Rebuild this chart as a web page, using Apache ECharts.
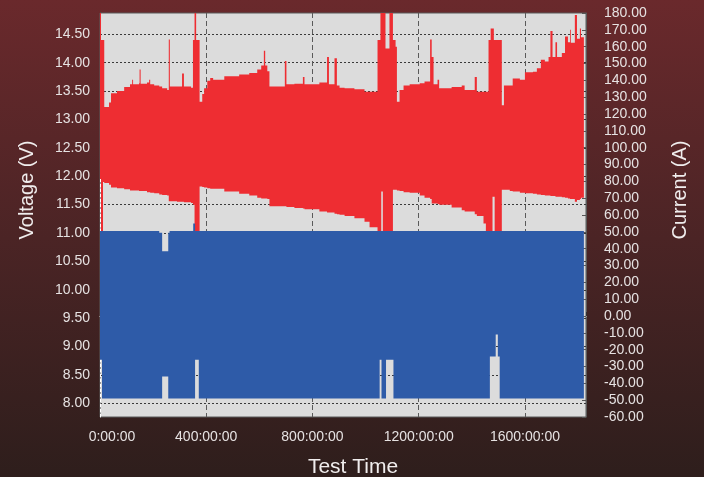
<!DOCTYPE html>
<html>
<head>
<meta charset="utf-8">
<script src="https://cdn.jsdelivr.net/npm/echarts@6/dist/echarts.min.js"></script>
<style>
  html, body { margin: 0; padding: 0; }
  #main { width: 704px; height: 477px; }
</style>
</head>
<body>
<div id="main"></div>
<script>
// test time (hours) for the voltage envelope
var timeHours = [0, 3.8, 11.3, 16, 34, 41.5, 64, 91, 113, 121, 124.5, 147, 149, 153, 177, 185, 189, 204, 223, 234,
  253, 259, 263, 290, 309, 316, 343, 350, 356, 362, 375, 385, 392, 404, 415, 426, 468, 524, 562, 592,
  607, 617, 622, 630, 638, 675, 696, 702, 732, 764, 770, 826, 855, 862, 883, 892, 902, 921, 958, 996,
  1015, 1045, 1056, 1075, 1090, 1103, 1113, 1118, 1128, 1143, 1166, 1204, 1222, 1243, 1249, 1256, 1271, 1277, 1324, 1362,
  1373, 1411, 1419, 1444, 1453, 1463, 1471, 1483, 1513, 1521, 1543, 1554, 1581, 1600, 1630, 1645, 1660, 1675, 1689, 1696,
  1704, 1715, 1721, 1739, 1751, 1762, 1770, 1773, 1788, 1796, 1807, 1811, 1822];
// upper edge of the voltage trace (V)
var voltageMax = [14.88, 14.4, 14.4, 13.22, 13.3, 13.46, 13.5, 13.57, 13.62, 13.7, 13.62, 13.64, 13.88, 13.63, 13.65, 13.7, 13.62, 13.6, 13.58, 13.55,
  13.52, 14.41, 13.58, 13.58, 13.81, 13.58, 13.56, 14.4, 14.88, 14.4, 13.31, 13.45, 13.55, 13.68, 13.73, 13.7, 13.76, 13.79, 13.82, 13.88,
  13.95, 14.21, 13.95, 13.85, 13.58, 13.58, 14.03, 13.62, 13.63, 13.75, 13.62, 13.65, 14.1, 13.62, 14.08, 13.6, 13.56, 13.55, 13.53, 13.49,
  13.49, 14.4, 14.88, 14.25, 14.88, 14.4, 14.28, 13.31, 13.52, 13.6, 13.62, 13.64, 13.67, 14.41, 14.1, 13.62, 13.7, 13.55, 13.57, 13.6,
  13.52, 13.75, 13.49, 13.49, 13.49, 14.4, 14.6, 14.4, 13.25, 13.6, 13.6, 13.72, 13.7, 13.83, 13.84, 13.9, 14.05, 14.02, 14.1, 14.56,
  14.1, 14.36, 14.1, 14.17, 14.46, 14.36, 14.58, 14.35, 14.84, 14.42, 14.6, 14.45, 14.52];
// lower edge of the voltage trace (V)
var voltageMin = [11.95, 11.0, 11.9, 11.88, 11.85, 11.8, 11.79, 11.77, 11.75, 11.75, 11.75, 11.74, 11.74, 11.74, 11.72, 11.72, 11.71, 11.7, 11.68, 11.67,
  11.66, 11.56, 11.56, 11.55, 11.55, 11.54, 11.53, 11.5, 11.0, 11.0, 11.82, 11.81, 11.8, 11.79, 11.78, 11.78, 11.73, 11.69, 11.66, 11.62,
  11.61, 11.61, 11.61, 11.6, 11.47, 11.47, 11.47, 11.46, 11.44, 11.43, 11.42, 11.38, 11.36, 11.36, 11.34, 11.33, 11.32, 11.3, 11.26, 11.2,
  11.1, 11.0, 11.0, 11.0, 11.0, 11.76, 11.76, 11.75, 11.74, 11.72, 11.71, 11.66, 11.62, 11.6, 11.52, 11.52, 11.51, 11.5, 11.45, 11.4,
  11.38, 11.33, 11.3, 11.17, 11.0, 11.0, 11.0, 11.0, 11.76, 11.76, 11.74, 11.73, 11.71, 11.7, 11.69, 11.68, 11.67, 11.66, 11.66, 11.65,
  11.65, 11.64, 11.64, 11.63, 11.62, 11.61, 11.6, 11.6, 11.55, 11.58, 11.6, 11.62, 11.63];

// short rest periods where the voltage trace leaves a gap (V)
var restTime = [1059, 1065, 1478, 1486];
var restLow = [11.0, 11.0, 11.0, 11.0];
var restHigh = [11.73, 11.0, 11.64, 11.64];

// current envelope (A)
var currentTime = [0, 7.5, 223, 234, 257, 262, 351, 358, 372, 1053, 1060, 1077, 1105, 1468, 1490, 1498, 1505, 1822];
var currentMax = [50.5, 50.5, 49.5, 38.5, 49.5, 50.5, 55, 50.5, 50.5, 50.5, 50.5, 50.5, 50.5, 50.5, 50.5, 50.5, 50.5, 50.5];
var currentMin = [-26, -49, -49, -36, -49, -49, -49, -26, -49, -26, -49, -26, -49, -24, -11, -24, -49, -49];

var voltageTicks = [8, 8.5, 9, 9.5, 10, 10.5, 11, 11.5, 12, 12.5, 13, 13.5, 14, 14.5];

var labelFont = '"Liberation Sans", Arial, sans-serif';
var labelColor = '#e6e2e2';

// stepped band: each sample holds until the next one
function bandSeries(name, yIndex, times, low, high, color) {
  return {
    name: name, type: 'custom', xAxisIndex: 0, yAxisIndex: yIndex, clip: true,
    encode: {x: 0, y: [1, 2]},
    data: times.map(function (t, i) { return [t, low[i], high[i]]; }),
    renderItem: function (params, api) {
      if (params.dataIndex !== 0) return null;
      var pts = [];
      var n = times.length;
      for (var i = 0; i < n - 1; i++) {
        pts.push(api.coord([times[i], high[i]]));
        pts.push(api.coord([times[i + 1], high[i]]));
      }
      for (var j = n - 2; j >= 0; j--) {
        pts.push(api.coord([times[j + 1], low[j]]));
        pts.push(api.coord([times[j], low[j]]));
      }
      return {type: 'polygon', shape: {points: pts}, style: {fill: color}};
    }
  };
}

var chart = echarts.init(document.getElementById('main'));
var option = {
  animation: false,
  backgroundColor: {
    type: 'linear', x: 0, y: 0, x2: 0, y2: 1,
    colorStops: [
      {offset: 0, color: '#6a292c'},
      {offset: 0.5, color: '#4b2425'},
      {offset: 1, color: '#2e1e1c'}
    ]
  },
  grid: {
    left: 100, right: 118, top: 13, bottom: 60,
    show: true, backgroundColor: '#dcdcdc', borderColor: '#5a5a5a', borderWidth: 1
  },
  xAxis: {
    type: 'value', min: 0, max: 1830, interval: 400,
    axisLine: {lineStyle: {color: '#f2f2f2'}},
    axisTick: {inside: true, length: 4, lineStyle: {color: '#333'}},
    minorTick: {show: true, splitNumber: 4, length: 3, lineStyle: {color: '#333'}},
    axisLabel: {
      color: labelColor, fontFamily: labelFont, fontSize: 14, margin: 13, showMaxLabel: false,
      formatter: function (v) {
        if (v === 0) return '{first|0:00:00}';
        return v + ':00:00';
      },
      rich: {first: {color: labelColor, fontFamily: labelFont, fontSize: 14, padding: [0, 0, 0, 24]}}
    },
    splitLine: {show: true, lineStyle: {color: '#5a5a5a', type: [5, 3]}}
  },
  yAxis: [
    {
      type: 'value', position: 'left', min: 7.76, max: 14.875,
      axisLine: {show: true, lineStyle: {color: '#ffffff', type: [3, 2]}},
      axisTick: {show: false, customValues: voltageTicks},
      axisLabel: {
        color: labelColor, fontFamily: labelFont, fontSize: 14, margin: 10,
        customValues: voltageTicks,
        formatter: function (v) { return v.toFixed(2); }
      },
      splitLine: {show: true, lineStyle: {color: '#3a3a3a', type: [2, 2]}}
    },
    {
      type: 'value', position: 'right', min: -60, max: 180, interval: 10,
      axisLine: {show: true, lineStyle: {color: '#5a5a5a'}},
      axisTick: {inside: true, length: 4, lineStyle: {color: '#555'}},
      axisLabel: {
        color: labelColor, fontFamily: labelFont, fontSize: 14, margin: 18,
        formatter: function (v) { return v.toFixed(2); }
      },
      splitLine: {show: false}
    }
  ],
  graphic: [
    {type: 'text', x: 27, y: 190, rotation: Math.PI / 2,
      style: {text: 'Voltage (V)', fill: '#f0eded', font: '20px "Liberation Sans", Arial, sans-serif', textAlign: 'center', textVerticalAlign: 'middle'}},
    {type: 'text', x: 680, y: 190, rotation: Math.PI / 2,
      style: {text: 'Current (A)', fill: '#f0eded', font: '20px "Liberation Sans", Arial, sans-serif', textAlign: 'center', textVerticalAlign: 'middle'}},
    {type: 'text', x: 353, y: 467,
      style: {text: 'Test Time', fill: '#f0eded', font: '21px "Liberation Sans", Arial, sans-serif', textAlign: 'center', textVerticalAlign: 'middle'}}
  ],
  series: [
    bandSeries('Voltage', 0, timeHours, voltageMin, voltageMax, '#ee2d32'),
    bandSeries('Rest', 0, restTime, restLow, restHigh, '#dcdcdc'),
    bandSeries('Current', 1, currentTime, currentMin, currentMax, '#2e5ba8')
  ]
};
chart.setOption(option);
</script>
</body>
</html>
